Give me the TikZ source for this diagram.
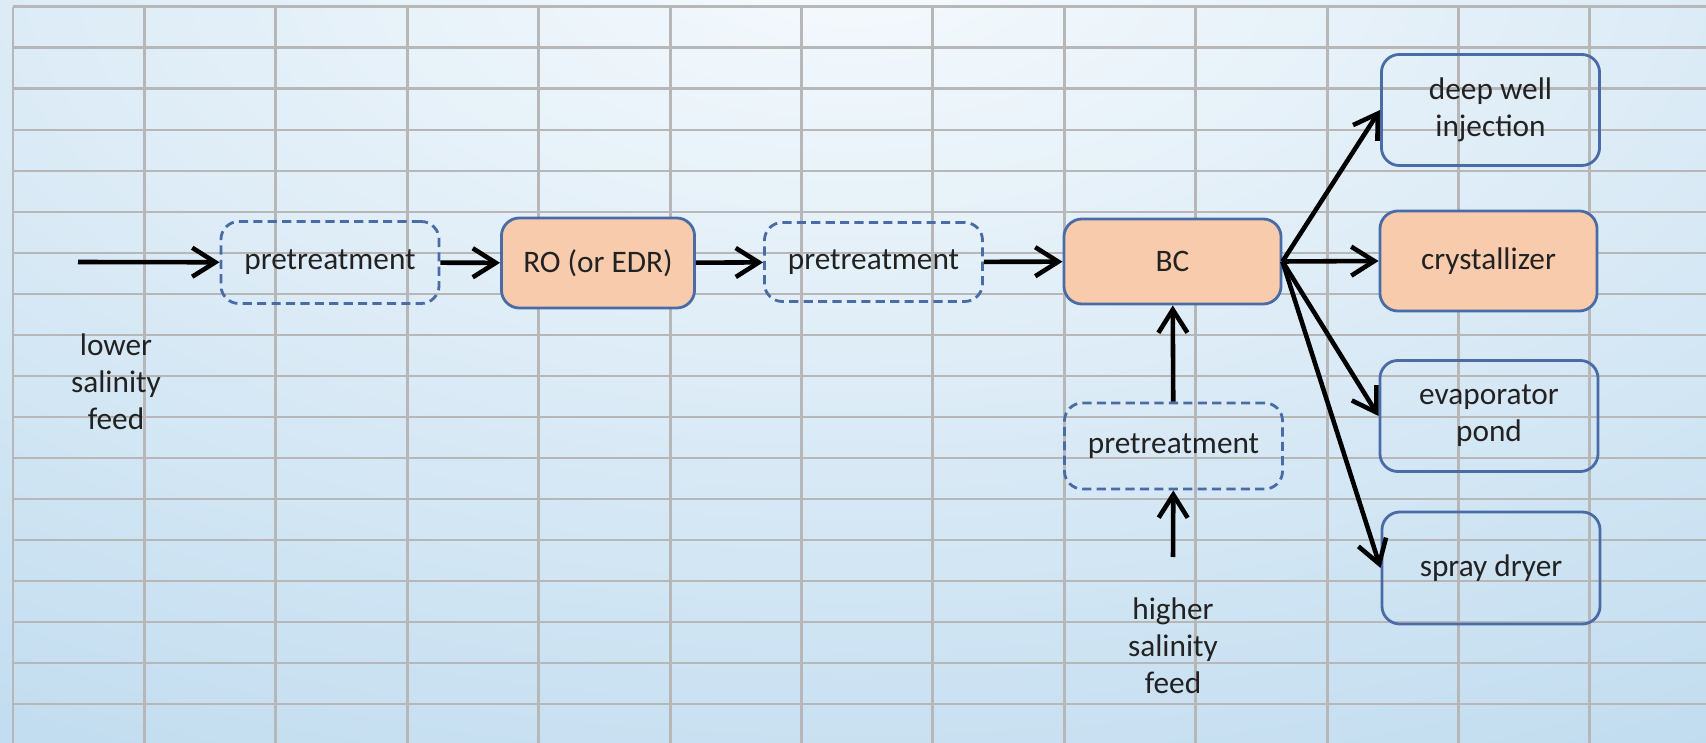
\documentclass[tikz,border=0pt]{standalone}
\usepackage{fontspec}
\setmainfont{Carlito}
\usetikzlibrary{arrows.meta,positioning}
\definecolor{zdInk}{HTML}{222222}
\definecolor{zdEdge}{HTML}{4A6CA6}
\definecolor{zdPeach}{HTML}{F8CBAD}
\definecolor{zdGrid}{HTML}{B7B7B7}
\definecolor{zdSkyLight}{HTML}{F6FAFD}
\definecolor{zdSkyDark}{HTML}{9AC6E5}
\tikzset{
  zd grid/.style={draw=zdGrid, line width=.85pt},
  zd box/.style={
    draw=zdEdge,
    line width=.8pt,
    rounded corners=1.8mm,
    inner sep=0pt,
    minimum width=2.18cm,
    align=center,
    text=zdInk,
    font=\fontsize{8.9}{10.5}\selectfont
  },
  zd unit/.style={zd box, fill=zdPeach},
  zd pretreat/.style={zd box, dash pattern=on 2.6pt off 1.5pt, minimum height=.82cm},
  zd sink/.style={zd box, minimum height=1.11cm},
  zd flow/.style={
    draw=black,
    line width=1.3pt,
    -{Straight Barb[length=2.3mm,width=2.9mm]}
  },
  zd label/.style={align=center, text=zdInk, font=\fontsize{8.9}{10.5}\selectfont}
}

\begin{document}
\begin{tikzpicture}[x=.01cm,y=-.01cm]
  \useasboundingbox (0,0) rectangle (1706,743);
  \begin{scope}
    \clip (0,0) rectangle (1706,743);
    \shade[inner color=zdSkyLight, outer color=zdSkyDark] (-2150,-1650) rectangle (3850,1550);
  \end{scope}
  \foreach \i in {0,...,12}
    \draw[zd grid] ({13+131.4*\i},7) -- ({13+131.4*\i},743);
  \foreach \j in {0,...,17}
    \draw[zd grid] (13,{7+41*\j}) -- (1706,{7+41*\j});

  \node[zd pretreat] (pre1) at (330,262.5) {pretreatment};
  \node[zd unit, minimum width=1.93cm, minimum height=.9cm] (ro) at (598,263) {RO (or EDR)};
  \node[zd pretreat, minimum height=.79cm] (pre2) at (873.5,262) {pretreatment};
  \node[zd unit, minimum width=2.17cm, minimum height=.85cm] (bc) at (1172.5,261.5) {BC};
  \node[zd pretreat, minimum height=.86cm] (pre3) at (1173.5,446) {pretreatment};
  \node[zd sink] (deep) at (1490.5,110) {deep well\\injection};
  \node[zd unit, minimum width=2.17cm, minimum height=1cm] (cryst) at (1488.5,261) {crystallizer};
  \node[zd sink] (evap) at (1489,416) {evaporator\\pond};
  \node[zd sink, minimum height=1.12cm] (spray) at (1491,568) {spray dryer};

  \coordinate (lowin) at (78,262);
  \coordinate (highin) at (1173,557);
  \node[zd label] (lowlab) at (116,382) {lower\\salinity\\feed};
  \node[zd label] (highlab) at (1173,646) {higher\\salinity\\feed};

  \draw[zd flow] (lowin) -- (pre1);
  \draw[zd flow] (pre1) -- (ro);
  \draw[zd flow] (ro) -- (pre2);
  \draw[zd flow] (pre2) -- (bc);
  \draw[zd flow] (highin) -- (pre3);
  \draw[zd flow] (pre3) -- (bc);
  \draw[zd flow] (bc.east) -- (deep.west);
  \draw[zd flow] (bc.east) -- (cryst.west);
  \draw[zd flow] (bc.east) -- (evap.west);
  \draw[zd flow] (bc.east) -- (spray.west);
\end{tikzpicture}
\end{document}
